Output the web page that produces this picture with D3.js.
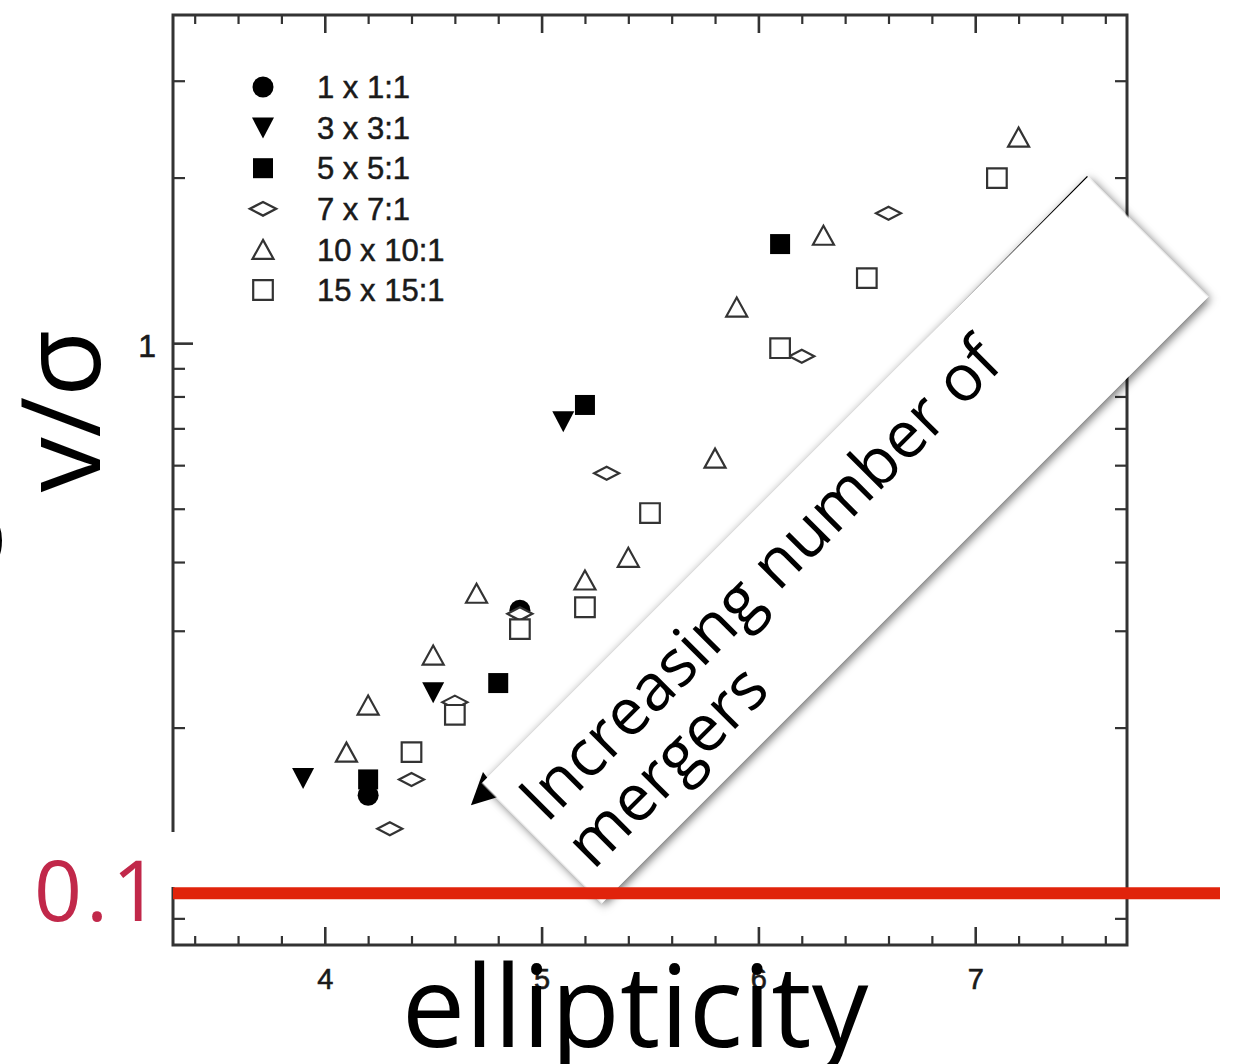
<!DOCTYPE html>
<html>
<head>
<meta charset="utf-8">
<script src="https://cdn.jsdelivr.net/npm/d3@7"></script>
<style>
  html, body { margin: 0; padding: 0; background: #fff; }
  svg { display: block; }
</style>
</head>
<body>
<svg id="chart" width="1239" height="1064"></svg>
<script>
// ---- data -------------------------------------------------------------
const seriesNames = ["1 x 1:1", "3 x 3:1", "5 x 5:1", "7 x 7:1", "10 x 10:1", "15 x 15:1"];

// ellipticity (x) and v/sigma (y) for each merger sequence
const ell_1x1   = [4.2, 4.9];
const vs_1x1    = [0.1507, 0.327];

const ell_3x3   = [3.9, 4.5, 5.1];
const vs_3x3    = [0.162, 0.232, 0.721];

const ell_5x5   = [4.2, 4.8, 5.2, 6.1];
const vs_5x5    = [0.161, 0.241, 0.772, 1.514];

const ell_7x7   = [4.3, 4.4, 4.6, 4.9, 5.3, 6.2, 6.6];
const vs_7x7    = [0.131, 0.161, 0.2225, 0.322, 0.580, 0.947, 1.723];

const ell_10x10 = [4.1, 4.2, 4.5, 4.7, 5.2, 5.4, 5.8, 5.9, 6.3, 7.2];
const vs_10x10  = [0.1805, 0.2198, 0.271, 0.351, 0.371, 0.408, 0.618, 1.163, 1.571, 2.369];

const ell_15x15 = [4.4, 4.6, 4.9, 5.2, 5.5, 6.1, 6.5, 7.1];
const vs_15x15  = [0.1805, 0.211, 0.302, 0.331, 0.491, 0.979, 1.313, 1.995];

// axis ticks
const xTickLabels = [4, 5, 6, 7];
const xMinorTicks = [3.4, 3.6, 3.8, 4.2, 4.4, 4.6, 4.8, 5.2, 5.4, 5.6, 5.8,
                     6.2, 6.4, 6.6, 6.8, 7.2, 7.4, 7.6];
const yTickLabels = [0.1, 1];
const yMinorTicks = [0.09, 0.2, 0.3, 0.4, 0.5, 0.6, 0.7, 0.8, 0.9, 2, 3];

// reference level marked in red
const vsThreshold = 0.1;

// ---- layout -----------------------------------------------------------
const svg = d3.select("#chart");
const plot = { left: 173, top: 15, right: 1127, bottom: 945 };

const x = d3.scaleLinear().domain([3.3, 7.7]).range([plot.left, plot.right]);
const y = d3.scaleLog().domain([0.0805, 3.95]).range([plot.bottom, plot.top]);

const INK = "#333";
const PLOT_FONT = "'Liberation Sans', Arial, Helvetica, sans-serif";
const BIG_FONT = "'Open Sans', 'DejaVu Sans', sans-serif";

svg.append("defs").append("filter")
  .attr("id", "softShadow")
  .attr("x", "-8%").attr("y", "-30%").attr("width", "116%").attr("height", "160%")
  .append("feDropShadow")
  .attr("dx", 0).attr("dy", 3)
  .attr("stdDeviation", 5)
  .attr("flood-color", "#000")
  .attr("flood-opacity", 0.6);

// frame
svg.append("rect")
  .attr("x", plot.left).attr("y", plot.top)
  .attr("width", plot.right - plot.left)
  .attr("height", plot.bottom - plot.top)
  .attr("fill", "none")
  .attr("stroke", INK)
  .attr("stroke-width", 3);

// white patch behind the big red tick label
svg.append("rect")
  .attr("x", 20).attr("y", 832)
  .attr("width", plot.left + 3 - 20).attr("height", 55)
  .attr("fill", "#fff");

// ---- axes -------------------------------------------------------------
function drawAxis(gen, transform, width) {
  const g = svg.append("g")
    .attr("transform", transform)
    .attr("font-family", PLOT_FONT)
    .call(gen);
  g.select(".domain").remove();
  g.selectAll(".tick line").attr("stroke", INK).attr("stroke-width", width);
  return g;
}

const bottomMajor = drawAxis(
  d3.axisBottom(x).tickValues(xTickLabels).tickSize(-18).tickPadding(23).tickFormat(d3.format("d")),
  `translate(0,${plot.bottom})`, 2.6);
bottomMajor.selectAll(".tick text")
  .attr("font-size", 29).attr("fill", "#1a1a1a")
  .attr("stroke", "#1a1a1a").attr("stroke-width", 0.6);
drawAxis(d3.axisBottom(x).tickValues(xMinorTicks).tickSize(-9).tickFormat(""),
  `translate(0,${plot.bottom})`, 2.2);

drawAxis(d3.axisTop(x).tickValues(xTickLabels).tickSize(-18).tickFormat(""),
  `translate(0,${plot.top})`, 2.6);
drawAxis(d3.axisTop(x).tickValues(xMinorTicks).tickSize(-9).tickFormat(""),
  `translate(0,${plot.top})`, 2.2);

const leftMajor = drawAxis(
  d3.axisLeft(y).tickValues(yTickLabels).tickSize(-20).tickPadding(17)
    .tickFormat(d => d === 1 ? "1" : "0.1"),
  `translate(${plot.left},0)`, 2.6);
leftMajor.selectAll(".tick text")
  .attr("font-size", 32).attr("fill", "#1a1a1a").attr("dy", "0.42em")
  .attr("stroke", "#1a1a1a").attr("stroke-width", 0.6);
leftMajor.selectAll(".tick text").filter(d => d === vsThreshold)
  .attr("font-family", BIG_FONT)
  .attr("font-size", 84)
  .attr("letter-spacing", 4)
  .attr("dx", 8)
  .attr("stroke", "none")
  .attr("fill", "#c1284a")
  .attr("dy", "0.32em");
drawAxis(d3.axisLeft(y).tickValues(yMinorTicks).tickSize(-12).tickFormat(""),
  `translate(${plot.left},0)`, 2.2);

drawAxis(d3.axisRight(y).tickValues(yTickLabels).tickSize(-20).tickFormat(""),
  `translate(${plot.right},0)`, 2.6);
drawAxis(d3.axisRight(y).tickValues(yMinorTicks).tickSize(-12).tickFormat(""),
  `translate(${plot.right},0)`, 2.2);

// ---- symbols ----------------------------------------------------------
const shapes = {
  circle:   () => { const p = d3.path(); p.arc(0, 0, 10.5, 0, 2 * Math.PI); return p.toString(); },
  triDown:  () => "M-11,-10L11,-10L0,11Z",
  square:   () => "M-10,-10H10V10H-10Z",
  diamond:  () => "M-12.5,0L0,-6.5L12.5,0L0,6.5Z",
  triUp:    () => "M0,-9.5L10.5,9.5L-10.5,9.5Z",
  openSq:   () => "M-9.8,-9.8H9.8V9.8H-9.8Z"
};
const styles = [
  { shape: "circle",  fill: "#000", stroke: "none" },
  { shape: "triDown", fill: "#000", stroke: "none" },
  { shape: "square",  fill: "#000", stroke: "none" },
  { shape: "diamond", fill: "#fff", stroke: INK },
  { shape: "triUp",   fill: "#fff", stroke: INK },
  { shape: "openSq",  fill: "#fff", stroke: INK }
];
const seriesX = [ell_1x1, ell_3x3, ell_5x5, ell_7x7, ell_10x10, ell_15x15];
const seriesY = [vs_1x1, vs_3x3, vs_5x5, vs_7x7, vs_10x10, vs_15x15];

const pointsLayer = svg.append("g");
seriesNames.forEach((name, i) => {
  const st = styles[i];
  const pts = seriesX[i].map((e, k) => ({ e, v: seriesY[i][k] }));
  pointsLayer.append("g").attr("class", "series")
    .selectAll("path").data(pts).join("path")
    .attr("transform", d => `translate(${x(d.e)},${y(d.v)})`)
    .attr("d", shapes[st.shape]())
    .attr("fill", st.fill)
    .attr("stroke", st.stroke)
    .attr("stroke-width", 2.2)
    .attr("stroke-linejoin", "miter");
});

// ---- legend -----------------------------------------------------------
const legend = svg.append("g").attr("font-family", PLOT_FONT);
seriesNames.forEach((name, i) => {
  const st = styles[i];
  const row = legend.append("g").attr("transform", `translate(263,${87 + i * 40.6})`);
  row.append("path")
    .attr("d", shapes[st.shape]())
    .attr("transform", st.shape === "diamond" ? "scale(1.05,1.05)" : null)
    .attr("fill", st.fill)
    .attr("stroke", st.stroke)
    .attr("stroke-width", 2.2);
  row.append("text")
    .attr("x", 54).attr("dy", "0.36em")
    .attr("font-size", 31)
    .attr("fill", "#1a1a1a")
    .attr("stroke", "#1a1a1a").attr("stroke-width", 0.5)
    .text(name);
});

// ---- axis titles ------------------------------------------------------
svg.append("text")
  .attr("x", 635).attr("y", 1047)
  .attr("text-anchor", "middle")
  .attr("font-family", BIG_FONT)
  .attr("font-size", 113)
  .attr("fill", "#000")
  .text("ellipticity");

svg.append("text")
  .attr("transform", "translate(100,411) rotate(-90)")
  .attr("text-anchor", "middle")
  .attr("font-family", BIG_FONT)
  .attr("font-size", 110)
  .attr("fill", "#000")
  .text("v/σ");

svg.append("text")
  .attr("transform", "translate(1,538) rotate(-90)")
  .attr("text-anchor", "middle")
  .attr("font-family", BIG_FONT)
  .attr("font-size", 110)
  .attr("fill", "#000")
  .text("s");

// ---- trend callout ----------------------------------------------------
const callout = svg.append("g").attr("transform", "translate(845,540) rotate(-45)");
const halfLen = 428.5, halfW = 85;

callout.append("path")
  .attr("d", `M${halfLen},${-halfW - 0.5}L${-halfLen + 6},${-79}`)
  .attr("stroke", "#000").attr("stroke-width", 1.6).attr("fill", "none");
callout.append("path")
  .attr("d", "M-452,-77L-420,-92L-424,-62Z")
  .attr("fill", "#000");

callout.append("rect")
  .attr("x", -halfLen).attr("y", -halfW)
  .attr("width", 2 * halfLen).attr("height", 2 * halfW)
  .attr("fill", "#fff")
  .attr("filter", "url(#softShadow)");

const calloutText = callout.append("text")
  .attr("font-family", BIG_FONT)
  .attr("font-size", 65)
  .attr("fill", "#000");
calloutText.append("tspan").attr("x", -412).attr("y", -10).text("Increasing number of");
calloutText.append("tspan").attr("x", -412).attr("y", 56).text("mergers");

// ---- threshold line ---------------------------------------------------
svg.append("line")
  .attr("x1", plot.left).attr("x2", 1220)
  .attr("y1", y(vsThreshold)).attr("y2", y(vsThreshold))
  .attr("stroke", "#e0230b")
  .attr("stroke-width", 12);
</script>
</body>
</html>
